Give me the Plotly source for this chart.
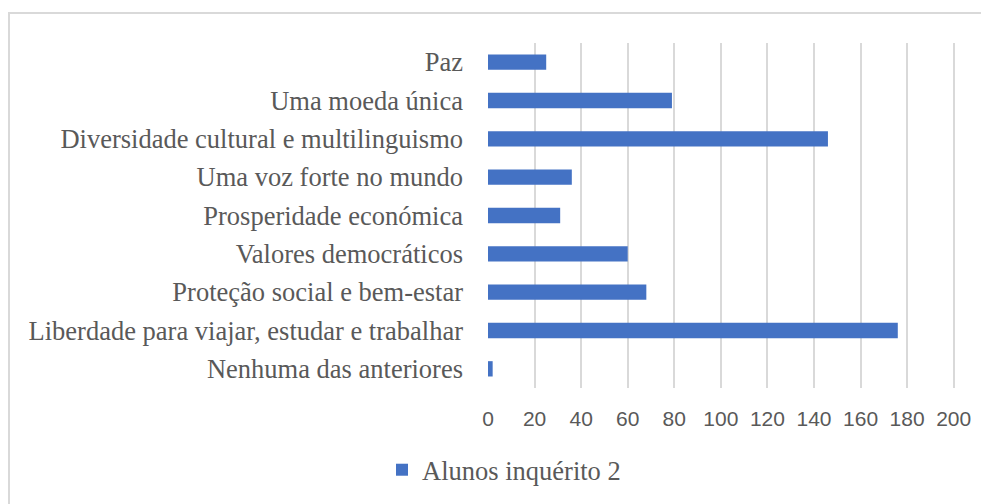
import plotly.graph_objects as go

# categories listed from bottom to top, as plotly draws them
categorias = [
    "Nenhuma das anteriores",
    "Liberdade para viajar, estudar e trabalhar",
    "Proteção social e bem-estar",
    "Valores democráticos",
    "Prosperidade económica",
    "Uma voz forte no mundo",
    "Diversidade cultural e multilinguismo",
    "Uma moeda única",
    "Paz",
]
alunos = [2, 176, 68, 60, 31, 36, 146, 79, 25]
x_ticks = [0, 20, 40, 60, 80, 100, 120, 140, 160, 180, 200]

# the page body has an 8px margin, so work in figure coords = screen - 8
OFF = 8
W, H = 989 - OFF, 504 - OFF
L, R, T, B = 488 - OFF, 989 - 956, 43 - OFF, 504 - 388
pw, ph = W - L - R, H - T - B

serif = "Times New Roman, Liberation Serif, DejaVu Serif, serif"

fig = go.Figure()
fig.add_trace(go.Bar(
    y=categorias, x=alunos, orientation="h",
    name="Alunos inquérito 2",
    marker=dict(color="#4472C4", line=dict(width=0)),
))

fig.update_layout(
    width=W, height=H,
    margin=dict(l=L, r=R, t=T, b=B, autoexpand=False),
    paper_bgcolor="white", plot_bgcolor="white",
    bargap=0.6,
    showlegend=True,
    legend=dict(
        orientation="h", x=(382 - 488) / pw, xanchor="left",
        y=-(470 - 388) / ph, yanchor="middle",
        font=dict(family=serif, size=26.5, color="#595959"),
    ),
    xaxis=dict(
        range=[0, 201], tickvals=x_ticks, showgrid=True,
        gridcolor="#d9d9d9", gridwidth=2, zeroline=False,
        showline=False, ticklabelstandoff=16,
        tickfont=dict(family="Liberation Sans", size=21, color="#595959"),
    ),
    yaxis=dict(
        showgrid=False, showline=False, ticklabelstandoff=24,
        tickfont=dict(family=serif, size=26.5, color="#595959"),
    ),
    shapes=[dict(
        type="rect", xref="paper", yref="paper",
        x0=-(L - 1) / pw, x1=1.2, y0=-0.6, y1=(388 - 13) / ph,
        line=dict(color="#d9d9d9", width=2), fillcolor="rgba(0,0,0,0)",
    )],
)

fig.write_html("out.html")
